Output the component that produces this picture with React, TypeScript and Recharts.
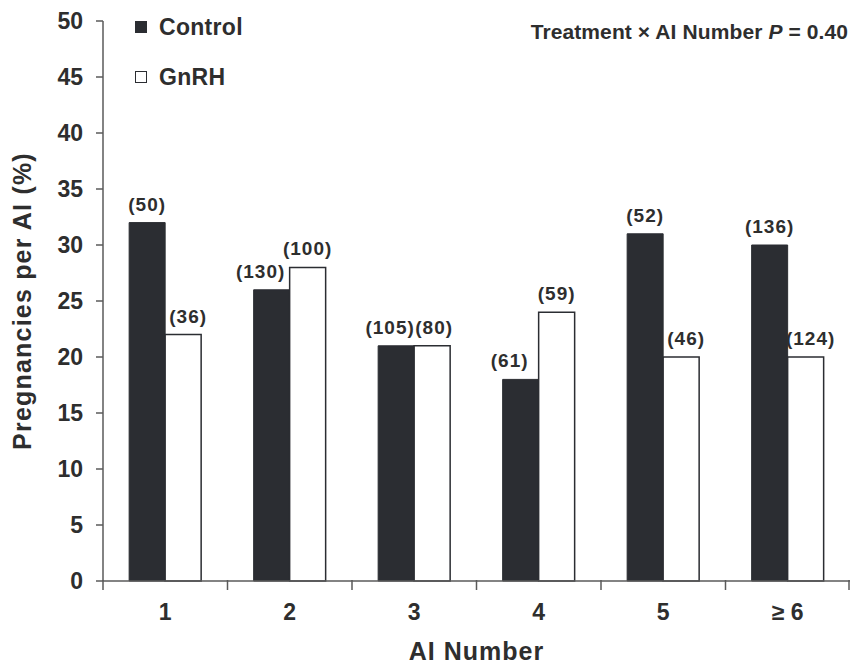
import React from 'react';
import { BarChart, Bar, XAxis, YAxis, LabelList, Legend } from 'recharts';

// AI number categories
const aiNumbers = ['1', '2', '3', '4', '5', '≥ 6'];
// Pregnancies per AI (%)
const controlValues = [32, 26, 21, 18, 31, 30];
const gnrhValues = [22, 28, 21, 24, 20, 20];
// number of AI per group (shown in parentheses)
const controlCounts = [50, 130, 105, 61, 52, 136];
const gnrhCounts = [36, 100, 80, 59, 46, 124];
const yTicks = [0, 5, 10, 15, 20, 25, 30, 35, 40, 45, 50];

const FONT = '"Liberation Sans", Arial, Helvetica, sans-serif';
const TEXT = '#2e2e2e';
const AXIS = '#5a5a5a';
const DARK = '#2b2d32';

const data = aiNumbers.map((ai, i) => ({
  ai,
  control: controlValues[i],
  gnrh: gnrhValues[i],
  controlN: controlCounts[i],
  gnrhN: gnrhCounts[i],
}));

function LegendBox() {
  const rows = [
    { name: 'Control', fill: DARK },
    { name: 'GnRH', fill: '#fff' },
  ];
  return (
    <div style={{ fontFamily: FONT, fontWeight: 700, fontSize: 23, color: TEXT, letterSpacing: 0.3 }}>
      {rows.map((r) => (
        <div key={r.name} style={{ display: 'flex', alignItems: 'center', height: 50 }}>
          <span
            style={{
              display: 'inline-block',
              width: 10,
              height: 10,
              background: r.fill,
              border: `1.5px solid ${DARK}`,
              marginRight: 12,
            }}
          />
          {r.name}
        </div>
      ))}
    </div>
  );
}

function YTitle(props: any) {
  const vb = props.viewBox;
  const cx = 22;
  const cy = vb.y + vb.height / 2;
  return (
    <text
      x={cx}
      y={cy}
      transform={`rotate(-90, ${cx}, ${cy})`}
      textAnchor="middle"
      dominantBaseline="central"
      fontFamily={FONT}
      fontWeight={700}
      fontSize={25}
      letterSpacing={1.2}
      fill={TEXT}
    >
      Pregnancies per AI (%)
    </text>
  );
}

// category tick: label plus small tick marks at the category edges
function XTick(props: any) {
  const { x, y, width, index, payload } = props;
  const half = width / aiNumbers.length / 2;
  const axisY = y - 6 - 18;
  const isLast = index === aiNumbers.length - 1;
  return (
    <g>
      <line x1={x - half} x2={x - half} y1={axisY - 1} y2={axisY + 9} stroke={AXIS} strokeWidth={1.5} />
      {isLast && <line x1={x + half - 1} x2={x + half - 1} y1={axisY - 1} y2={axisY + 9} stroke={AXIS} strokeWidth={1.5} />}
      <text
        x={x}
        y={axisY + 39}
        textAnchor="middle"
        fontFamily={FONT}
        fontWeight={700}
        fontSize={23}
        fill={TEXT}
      >
        {payload.value}
      </text>
    </g>
  );
}

// n labels, nudged sideways when the neighbouring bar is as tall or taller
function makeCountLabel(series: 'control' | 'gnrh') {
  return function CountLabel(props: any) {
    const { x, y, width, value, index } = props;
    const c = controlValues[index];
    const g = gnrhValues[index];
    let dx = 0;
    if (series === 'control') dx = g > c ? -11 : g === c ? -6 : 0;
    else dx = c > g ? 5 : c === g ? 2 : 0;
    return (
      <text
        x={x + width / 2 + dx}
        y={y - 12}
        textAnchor="middle"
        fontFamily={FONT}
        fontWeight={700}
        fontSize={19}
        letterSpacing={1}
        fill={TEXT}
      >
        ({value})
      </text>
    );
  };
}

const ControlLabel = makeCountLabel('control');
const GnrhLabel = makeCountLabel('gnrh');

export default function App() {
  return (
    <div style={{ position: 'absolute', left: 0, top: 0, width: 851, height: 666, background: '#fff' }}>
      <BarChart
        width={851}
        height={666}
        data={data}
        margin={{ top: 21, right: 1, bottom: 0, left: 0 }}
        barGap={0}
        barCategoryGap="21%"
      >
        <XAxis
          dataKey="ai"
          tickLine={false}
          axisLine={{ stroke: AXIS, strokeWidth: 1.5 }}
          tickMargin={18}
          height={85}
          interval={0}
          tick={<XTick />}
          label={{
            value: 'AI Number',
            position: 'insideBottom',
            offset: 6,
            style: { fontFamily: FONT, fontWeight: 700, fontSize: 25, letterSpacing: 1, fill: TEXT },
          }}
        />
        <YAxis
          width={103}
          domain={[0, 50]}
          ticks={yTicks}
          interval={0}
          axisLine={{ stroke: AXIS, strokeWidth: 1.5 }}
          tickLine={{ stroke: AXIS, strokeWidth: 1.5 }}
          tickSize={7}
          tickMargin={13}
          tick={{ fontFamily: FONT, fontWeight: 700, fontSize: 23, fill: TEXT }}
          label={{ content: YTitle }}
        />
        <Legend
          layout="vertical"
          align="center"
          verticalAlign="middle"
          content={() => <LegendBox />}
          wrapperStyle={{ position: 'absolute', left: 135, top: 2, width: 'auto' }}
        />
        <Bar dataKey="control" name="Control" fill={DARK} stroke={DARK} strokeWidth={1} isAnimationActive={false}>
          <LabelList dataKey="controlN" content={ControlLabel} />
        </Bar>
        <Bar dataKey="gnrh" name="GnRH" fill="#fff" stroke={DARK} strokeWidth={1.5} isAnimationActive={false}>
          <LabelList dataKey="gnrhN" content={GnrhLabel} />
        </Bar>
      </BarChart>
      <div
        style={{
          position: 'absolute',
          right: 3,
          top: 20,
          fontFamily: FONT,
          fontWeight: 700,
          fontSize: 21,
          color: TEXT,
          whiteSpace: 'nowrap',
          letterSpacing: 0.1,
        }}
      >
        Treatment × AI Number <i>P</i> = 0.40
      </div>
    </div>
  );
}
